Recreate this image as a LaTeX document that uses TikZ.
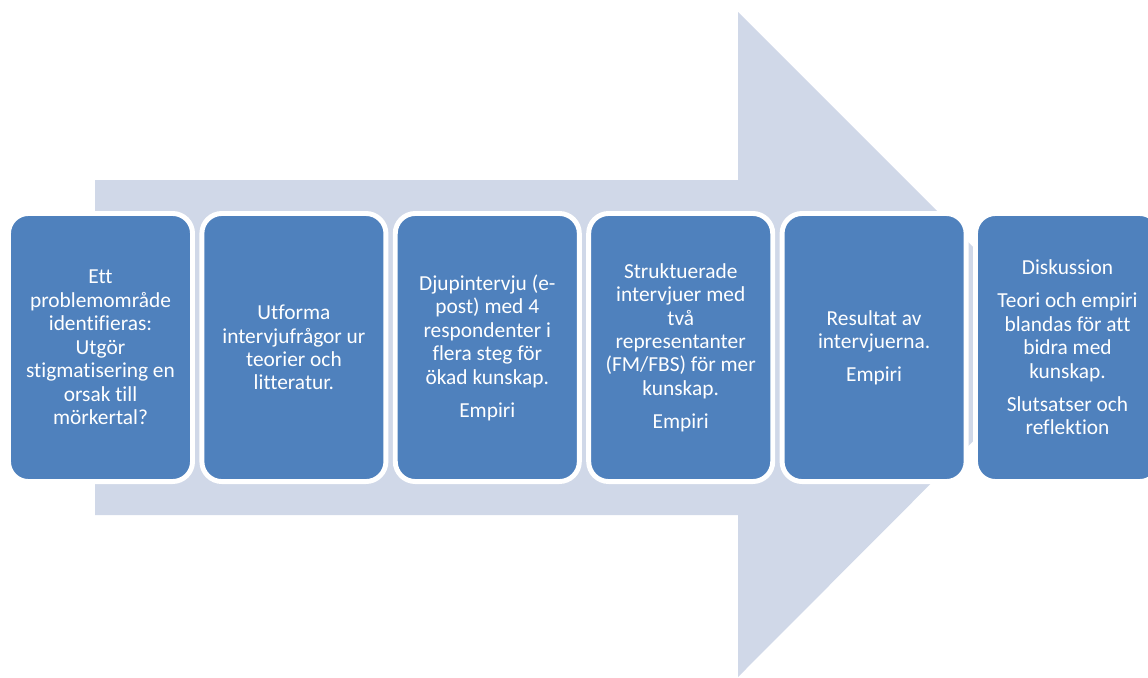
\documentclass[tikz,border=0pt]{standalone}
\usepackage{fontspec}
\setmainfont[Ligatures=NoCommon]{Carlito}
\definecolor{arrowfill}{RGB}{208,216,232}
\definecolor{boxfill}{RGB}{79,129,189}

\tikzstyle{stage} = [rectangle, rounded corners=0.5cm, fill=boxfill, draw=white, line width=3.5pt, minimum width=4.6cm, minimum height=6.7cm, text=white, align=center, font=\fontsize{15.2}{16.7}\selectfont, inner sep=0pt]

\begin{document}
\begin{tikzpicture}[x=0.025cm, y=-0.025cm]
      \useasboundingbox (0,0) rectangle (1148,677);
      \fill[arrowfill] (95,180) -- (738,180) -- (738,12) -- (1070,344) -- (738,677) -- (738,515) -- (95,515) -- cycle;

      \node[stage] (s1) at (100.5,347.5) {Ett\\problemområde\\identifieras:\\Utgör\\stigmatisering en\\orsak till\\mörkertal?};
      \node[stage] (s2) at (293.9,347.5) {Utforma\\intervjufrågor ur\\teorier och\\litteratur.};
      \node[stage] (s3) at (487.3,347.5) {Djupintervju (e-\\post) med 4\\respondenter i\\flera steg för\\ökad kunskap.\\[6.7pt]Empiri};
      \node[stage] (s4) at (680.7,347.5) {Struktuerade\\intervjuer med\\två\\representanter\\(FM/FBS) för mer\\kunskap.\\[6.7pt]Empiri};
      \node[stage] (s5) at (874.1,347.5) {Resultat av\\intervjuerna.\\[6.7pt]Empiri};
      \node[stage] (s6) at (1067.5,347.5) {Diskussion\\[6.7pt]Teori och empiri\\blandas för att\\bidra med\\kunskap.\\[6.7pt]Slutsatser och\\reflektion};
    \end{tikzpicture}
\end{document}
